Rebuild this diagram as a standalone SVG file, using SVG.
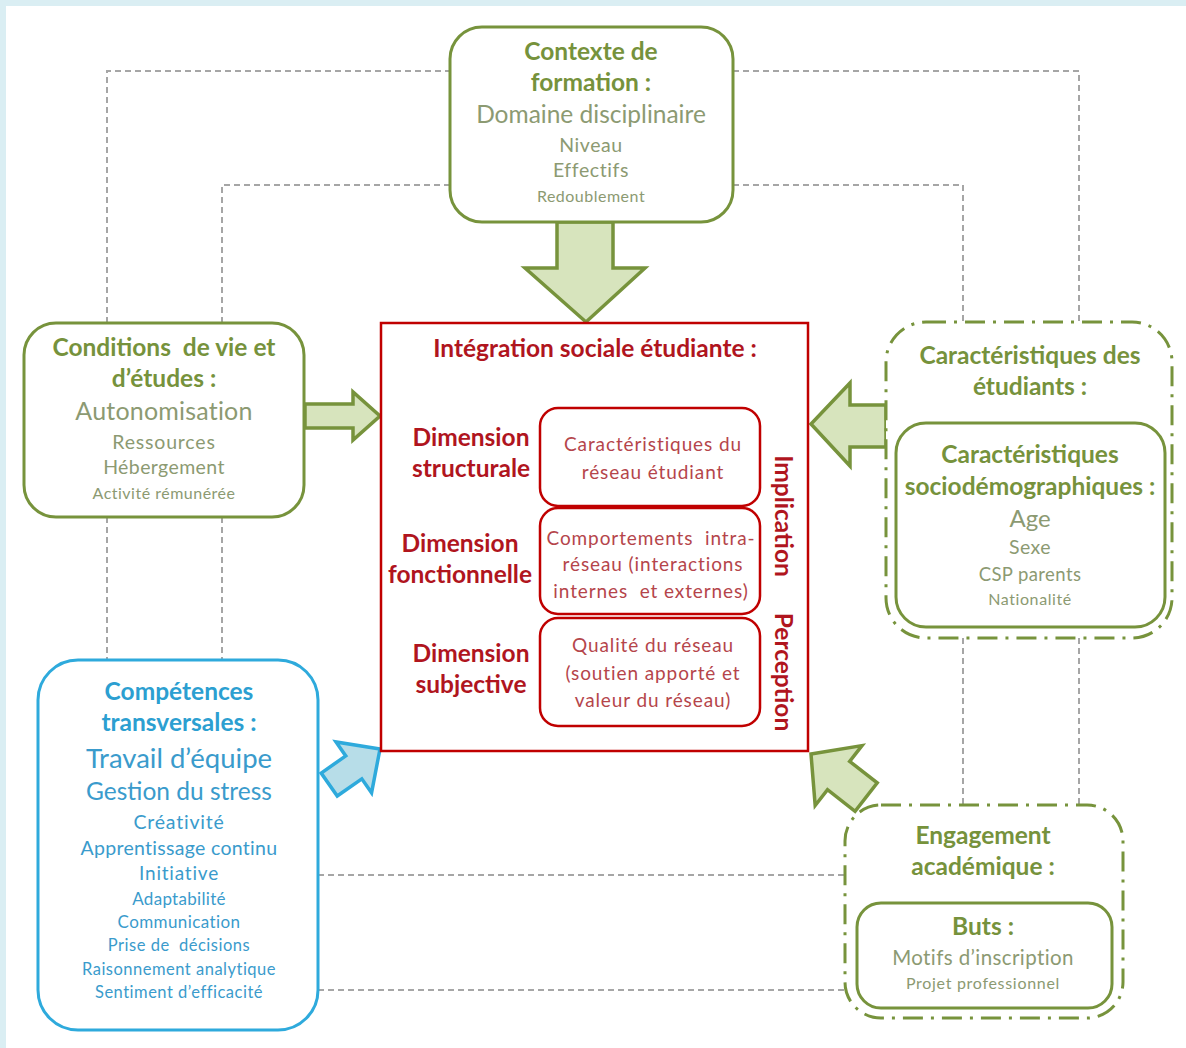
<svg xmlns="http://www.w3.org/2000/svg" width="1186" height="1048" viewBox="0 0 1186 1048">
<style>
text{font-family:Lato,"Liberation Sans",sans-serif;text-anchor:middle}
.gbox{fill:#fff;stroke:#77933c;stroke-width:3}
.gdash{fill:#fff;stroke:#77933c;stroke-width:3;stroke-dasharray:20 8 3 8}
.rbox{fill:#fff;stroke:#c00000;stroke-width:2.5}
.conn{fill:none;stroke:#a6a6a6;stroke-width:2;stroke-dasharray:6 4}
.garrow{fill:#d7e4bd;stroke:#77933c;stroke-width:3.5;stroke-linejoin:miter}
.barrow{fill:#b7dde8;stroke:#2eaadc;stroke-width:3.5}
.gt{fill:#76923c;font-weight:bold;font-size:24.5px}
.gi{fill:#8c9a72}
.rt{fill:#b0151e;font-weight:bold;font-size:24.5px}
.ri{fill:#b5454b;font-size:19px;letter-spacing:0.9px}
.bt{fill:#2c9fd1;font-weight:bold;font-size:24.5px}
.bi{fill:#3a9bcc}
</style>
<rect x="0" y="0" width="1186" height="1048" fill="#daeef3"/>
<rect x="6" y="6" width="1180" height="1042" fill="#fff"/>

<g id="connectors">
<polyline class="conn" points="107,323 107,71 450,71"/>
<polyline class="conn" points="733,71 1079,71 1079,322"/>
<polyline class="conn" points="222,323 222,185 450,185"/>
<polyline class="conn" points="733,185 963,185 963,322"/>
<line class="conn" x1="107" y1="517" x2="107" y2="660"/>
<line class="conn" x1="222" y1="517" x2="222" y2="660"/>
<line class="conn" x1="963" y1="638" x2="963" y2="805"/>
<line class="conn" x1="1079" y1="638" x2="1079" y2="805"/>
<line class="conn" x1="318" y1="875" x2="845" y2="875"/>
<line class="conn" x1="318" y1="990" x2="845" y2="990"/>
<polygon class="garrow" points="557,222 613,222 613,268 645,268 586,322 525,268 557,268"/>
<polygon class="garrow" points="305,404 353,404 353,392 380,416 353,440 353,428 305,428"/>
<polygon class="garrow" points="886,405 850,405 850,383 811,424 850,466 850,447 886,447"/>
<polygon class="barrow" transform="translate(380,749) rotate(-35)" points="0,0 -32,-31 -32,-14 -62,-14 -62,14 -32,14 -32,31"/>
<polygon class="garrow" transform="translate(811,754) rotate(218)" points="0,0 -35,-38 -35,-18 -70,-18 -70,18 -35,18 -35,38"/>
</g>

<g id="contexte">
<rect class="gbox" x="450" y="27" width="283" height="195" rx="32"/>
<text class="gt" x="591" y="60">Contexte de</text>
<text class="gt" x="591" y="91">formation :</text>
<text class="gi" x="591" y="123" font-size="24.5">Domaine disciplinaire</text>
<text class="gi" x="591" y="152" font-size="19.5" letter-spacing="0.6">Niveau</text>
<text class="gi" x="591" y="177" font-size="19.5" letter-spacing="0.6">Effectifs</text>
<text class="gi" x="591" y="202" font-size="16" letter-spacing="0.5">Redoublement</text>
</g>

<g id="conditions">
<rect class="gbox" x="24" y="323" width="280" height="194" rx="32"/>
<text class="gt" x="164" y="356" xml:space="preserve">Conditions  de vie et</text>
<text class="gt" x="164" y="387">d’études :</text>
<text class="gi" x="164" y="420" font-size="25" letter-spacing="0.2">Autonomisation</text>
<text class="gi" x="164" y="449" font-size="19.5" letter-spacing="0.8">Ressources</text>
<text class="gi" x="164" y="474" font-size="19.5" letter-spacing="0.4">Hébergement</text>
<text class="gi" x="164" y="499" font-size="16" letter-spacing="0.5">Activité rémunérée</text>
</g>

<g id="integration">
<rect class="rbox" x="381" y="323" width="427" height="428"/>
<text class="rt" x="595" y="357">Intégration sociale étudiante :</text>
<text class="rt" x="471" y="446">Dimension</text>
<text class="rt" x="471" y="477">structurale</text>
<text class="rt" x="460" y="552">Dimension</text>
<text class="rt" x="460" y="583">fonctionnelle</text>
<text class="rt" x="471" y="662">Dimension</text>
<text class="rt" x="471" y="693">subjective</text>
<rect class="rbox" x="540" y="408" width="220" height="98" rx="18"/>
<text class="ri" x="653" y="451">Caractéristiques du</text>
<text class="ri" x="653" y="479">réseau étudiant</text>
<rect class="rbox" x="540" y="508" width="220" height="106" rx="18"/>
<text class="ri" x="651" y="545" xml:space="preserve">Comportements  intra-</text>
<text class="ri" x="653" y="571">réseau (interactions</text>
<text class="ri" x="651" y="598" xml:space="preserve">internes  et externes)</text>
<rect class="rbox" x="540" y="618" width="220" height="108" rx="18"/>
<text class="ri" x="653" y="652">Qualité du réseau</text>
<text class="ri" x="653" y="680">(soutien apporté et</text>
<text class="ri" x="653" y="707">valeur du réseau)</text>
<text class="rt" transform="translate(775,516) rotate(90)">Implication</text>
<text class="rt" transform="translate(775,672) rotate(90)">Perception</text>
</g>

<g id="caracteristiques">
<rect class="gdash" x="886" y="322" width="286" height="316" rx="40"/>
<text class="gt" x="1030" y="364">Caractéristiques des</text>
<text class="gt" x="1030" y="395">étudiants :</text>
<rect class="gbox" x="896" y="423" width="269" height="204" rx="30"/>
<text class="gt" x="1030" y="463">Caractéristiques</text>
<text class="gt" x="1030" y="495">sociodémographiques :</text>
<text class="gi" x="1030" y="527" font-size="24">Age</text>
<text class="gi" x="1030" y="554" font-size="19.5" letter-spacing="0.4">Sexe</text>
<text class="gi" x="1030" y="581" font-size="18.5" letter-spacing="0.4">CSP parents</text>
<text class="gi" x="1030" y="605" font-size="16" letter-spacing="0.6">Nationalité</text>
</g>

<g id="competences">
<rect x="38" y="660" width="280" height="370" rx="40" fill="#fff" stroke="#2eaadc" stroke-width="3"/>
<text class="bt" x="179" y="700">Compétences</text>
<text class="bt" x="179" y="731">transversales :</text>
<text class="bi" x="179" y="768" font-size="27.5">Travail d’équipe</text>
<text class="bi" x="179" y="800" font-size="24.5">Gestion du stress</text>
<text class="bi" x="179" y="829" font-size="19.5" letter-spacing="0.8">Créativité</text>
<text class="bi" x="179" y="855" font-size="19.5" letter-spacing="0.3">Apprentissage continu</text>
<text class="bi" x="179" y="880" font-size="19" letter-spacing="0.8">Initiative</text>
<text class="bi" x="179" y="905" font-size="17" letter-spacing="0.3">Adaptabilité</text>
<text class="bi" x="179" y="928" font-size="17" letter-spacing="0.4">Communication</text>
<text class="bi" x="179" y="951" font-size="16.5" letter-spacing="0.5" xml:space="preserve">Prise de  décisions</text>
<text class="bi" x="179" y="975" font-size="16.5" letter-spacing="0.5">Raisonnement analytique</text>
<text class="bi" x="179" y="998" font-size="16.5" letter-spacing="0.5">Sentiment d’efficacité</text>
</g>

<g id="engagement">
<rect class="gdash" x="845" y="805" width="278" height="213" rx="36"/>
<text class="gt" x="983" y="844">Engagement</text>
<text class="gt" x="983" y="875">académique :</text>
<rect class="gbox" x="857" y="903" width="255" height="105" rx="24"/>
<text class="gt" x="983" y="935">Buts :</text>
<text class="gi" x="983" y="965" font-size="20.5" letter-spacing="0.4">Motifs d’inscription</text>
<text class="gi" x="983" y="989" font-size="16" letter-spacing="0.7">Projet professionnel</text>
</g>
</svg>
